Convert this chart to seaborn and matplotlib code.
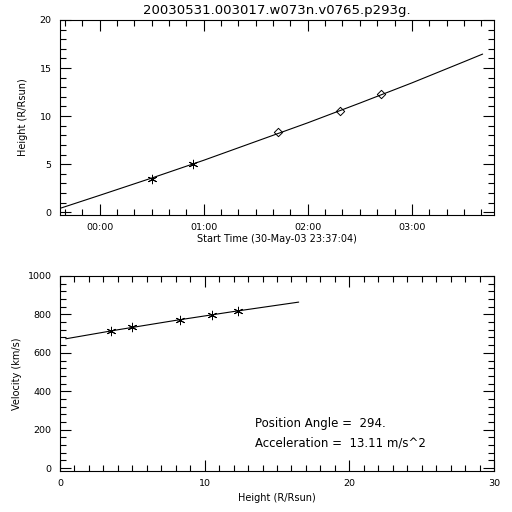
import numpy as np
import pandas as pd
import matplotlib
matplotlib.use("Agg")
import matplotlib.pyplot as plt
from matplotlib.ticker import MultipleLocator, FuncFormatter
import seaborn as sns

sns.set_theme(style="ticks")
plt.rcParams["font.family"] = ["DejaVu Sans"]
plt.rcParams["text.color"] = "black"
plt.rcParams["axes.labelcolor"] = "black"

# ---- data ----
title = "20030531.003017.w073n.v0765.p293g."

# height-time measurements (hours after 00:00 on 31-May)
t_star = [0.50, 0.90]
h_star = [3.5, 5.0]
t_diam = [1.71, 2.31, 2.70]
h_diam = [8.3, 10.5, 12.3]

# height-time fit curve
t_fit = [-0.38, 0.0, 0.5, 1.0, 1.5, 2.0, 2.5, 3.0, 3.5, 3.68]
h_fit = [0.4, 1.75, 3.55, 5.4, 7.35, 9.3, 11.35, 13.45, 15.65, 16.45]

# velocity-height
h_vel = [3.5, 5.0, 8.3, 10.5, 12.3]
v_vel = [715, 735, 770, 797, 818]
h_vfit = [0.4, 4.0, 8.0, 12.0, 16.5]
v_vfit = [673, 720, 769, 815, 864]

notes = ["Position Angle =  294.", "Acceleration =  13.11 m/s^2"]

fig = plt.figure(figsize=(5.12, 5.12), dpi=100)
fig.patch.set_facecolor("white")
ax1 = fig.add_axes([0.117, 0.580, 0.848, 0.381])
ax2 = fig.add_axes([0.117, 0.080, 0.848, 0.381])

star = (6, 2, 0)


def style_axes(ax):
    ax.set_facecolor("white")
    for s in ax.spines.values():
        s.set_linewidth(0.8)
        s.set_color("black")
    ax.tick_params(which="both", direction="in", top=True, right=True,
                   width=0.8, colors="black", labelsize=6.8, pad=6)
    ax.tick_params(which="major", length=8)
    ax.tick_params(which="minor", length=4)


# ---- top panel: height vs time ----
sns.lineplot(x=t_fit, y=h_fit, sort=False, color="black", linewidth=0.8, ax=ax1)
sns.scatterplot(x=t_star, y=h_star, marker=star, s=38, color="black",
                linewidth=0.7, ax=ax1)
sns.scatterplot(x=t_diam, y=h_diam, marker="D", s=18, facecolor="white",
                edgecolor="black", linewidth=0.7, ax=ax1)
ax1.set_xlim(-0.3822, 3.79)
ax1.set_ylim(-0.3, 20)
ax1.xaxis.set_major_locator(MultipleLocator(1))
ax1.xaxis.set_minor_locator(MultipleLocator(1 / 6))
ax1.xaxis.set_major_formatter(FuncFormatter(lambda x, _: f"{int(round(x)):02d}:00"))
ax1.yaxis.set_major_locator(MultipleLocator(5))
ax1.yaxis.set_minor_locator(MultipleLocator(1))
style_axes(ax1)
ax1.set_xlabel("Start Time (30-May-03 23:37:04)", fontsize=7, labelpad=1)
ax1.set_ylabel("Height (R/Rsun)", fontsize=7, labelpad=8)
ax1.set_title(title, fontsize=9.5, pad=4)

# ---- bottom panel: velocity vs height ----
sns.lineplot(x=h_vfit, y=v_vfit, sort=False, color="black", linewidth=0.8, ax=ax2)
sns.scatterplot(x=h_vel, y=v_vel, marker=star, s=38, color="black",
                linewidth=0.7, ax=ax2)
ax2.set_xlim(0, 30)
ax2.set_ylim(-15, 1000)
ax2.xaxis.set_major_locator(MultipleLocator(10))
ax2.xaxis.set_minor_locator(MultipleLocator(1))
ax2.yaxis.set_major_locator(MultipleLocator(200))
ax2.yaxis.set_minor_locator(MultipleLocator(40))
style_axes(ax2)
ax2.set_xlabel("Height (R/Rsun)", fontsize=7, labelpad=3)
ax2.set_ylabel("Velocity (km/s)", fontsize=7, labelpad=4)
ax2.text(13.5, 232, notes[0], fontsize=8.5, va="center")
ax2.text(13.5, 133, notes[1], fontsize=8.5, va="center")

fig.savefig("out.png", dpi=100, facecolor="white")
